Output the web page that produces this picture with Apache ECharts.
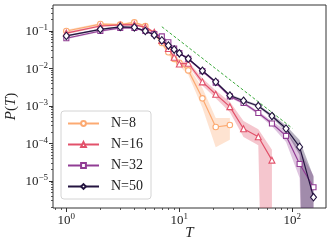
<!DOCTYPE html>
<html><head><meta charset="utf-8">
<script src="https://cdn.jsdelivr.net/npm/echarts@6/dist/echarts.min.js"></script>
<style>html,body{margin:0;padding:0;background:#fff}#c{width:332px;height:248px}</style>
</head><body><div id="c"></div>
<script>
// ---- data ----
const T = [1,2,3,4,5,6,7,8,9,10,12,16,21,28,37,50,66,88,116,154];
const seriesNames = ['N=8','N=16','N=32','N=50'];
const colors = ['#fcaa72','#e2516a','#913c94','#241440'];

const P8   = [0.100,0.153,0.148,0.170,0.135,0.085,0.048,0.027,0.018,0.0142,0.0089,0.0016,0.000275,0.00031];
const P8lo = [0.093,0.143,0.138,0.160,0.125,0.077,0.042,0.023,0.015,0.0115,0.0068,0.0009,0.00008,0.000126];
const P8hi = [0.108,0.163,0.158,0.180,0.145,0.093,0.054,0.031,0.021,0.0170,0.0115,0.0030,0.00048,0.00048];

const P16   = [0.088,0.136,0.145,0.148,0.125,0.092,0.056,0.034,0.020,0.0132,0.0138,0.0044,0.00205,0.00096,0.000247,0.000152,0.000036];
const P16lo = [0.082,0.128,0.137,0.140,0.117,0.085,0.051,0.031,0.018,0.0117,0.0121,0.0035,0.0016,0.00068,0.00015,0.00009,1e-20];
const P16hi = [0.094,0.145,0.154,0.157,0.133,0.099,0.061,0.037,0.022,0.0148,0.0156,0.0055,0.0026,0.0013,0.0004,0.00024,0.000068];

const P32   = [0.064,0.100,0.120,0.120,0.100,0.083,0.072,0.050,0.034,0.026,0.018,0.0085,0.0042,0.0018,0.0012,0.00065,0.00034,0.00016,0.0000284,0.0000068];
const P32lo = [0.060,0.094,0.113,0.113,0.094,0.078,0.067,0.047,0.032,0.0243,0.0168,0.0079,0.0039,0.00165,0.0011,0.00058,0.00029,0.00011,0.000012,1e-20];
const P32hi = [0.068,0.106,0.127,0.127,0.106,0.088,0.077,0.053,0.036,0.0277,0.0192,0.0091,0.0045,0.00195,0.0013,0.00072,0.00040,0.00022,0.000068,0.000014];

const P50   = [0.074,0.111,0.128,0.125,0.100,0.078,0.056,0.041,0.032,0.0254,0.0182,0.0087,0.0044,0.0019,0.00138,0.0010,0.00054,0.00025,0.000081,0.0000037];
const P50lo = [0.070,0.106,0.122,0.119,0.095,0.074,0.053,0.039,0.030,0.0240,0.0172,0.0082,0.0041,0.00175,0.00128,0.00092,0.00048,0.00021,0.000049,1e-20];
const P50hi = [0.078,0.116,0.134,0.131,0.105,0.082,0.059,0.043,0.034,0.0268,0.0192,0.0092,0.0047,0.00205,0.00148,0.00108,0.00060,0.00030,0.000124,0.000013];

const guideT = [7,100];
const guideP = [0.13,0.000255];

const xMajorExp = [0,1,2];
const yMajorExp = [-5,-4,-3,-2,-1];
const xMinorVals = [0.8,0.9,2,3,4,5,6,7,8,9,20,30,40,50,60,70,80,90];
const yMinorVals = [2e-6,3e-6,4e-6,5e-6,6e-6,7e-6,8e-6,9e-6,
  2e-5,3e-5,4e-5,5e-5,6e-5,7e-5,8e-5,9e-5,
  2e-4,3e-4,4e-4,5e-4,6e-4,7e-4,8e-4,9e-4,
  2e-3,3e-3,4e-3,5e-3,6e-3,7e-3,8e-3,9e-3,
  0.02,0.03,0.04,0.05,0.06,0.07,0.08,0.09,0.2,0.3,0.4];

// ---- chart ----
const L = Math.log10;
const FONT = "'Liberation Serif','DejaVu Serif',serif";
const values = [P8,P16,P32,P50], lows=[P8lo,P16lo,P32lo,P50lo], highs=[P8hi,P16hi,P32hi,P50hi];
const symbols = ['circle','triangle','rect','diamond'];
const symSizes = [5.5,6,5,[6,7.5]];
const bandOpacity = [0.33,0.33,0.3,0.33];

const rich = {
  b:{fontFamily:FONT,fontSize:13,color:'#222',verticalAlign:'bottom'},
  s:{fontFamily:FONT,fontSize:9,color:'#222',verticalAlign:'bottom',padding:[0,0,6,0]}
};
function fmt(v){ const e=Math.round(v); return '{b|10}{s|'+(e<0?'\u2212'+(-e):e)+'}'; }

const series = [];
values.forEach((v,k)=>{
  const n=v.length;
  const pts=[];
  for(let i=0;i<n;i++) pts.push([L(T[i]),L(highs[k][i])]);
  for(let i=n-1;i>=0;i--) pts.push([L(T[i]),L(lows[k][i])]);
  series.push({
    type:'custom', silent:true, z:1, xAxisIndex:0, yAxisIndex:0,
    data:[[L(T[0]),L(v[0])]],
    renderItem:function(params,api){
      const cs=params.coordSys;
      return {type:'polygon', shape:{points:pts.map(p=>api.coord(p))},
        style:{fill:colors[k],opacity:bandOpacity[k]},
        clipPath:{type:'rect',shape:{x:cs.x,y:cs.y,width:cs.width,height:cs.height}}};
    }
  });
});
values.forEach((v,k)=>{
  series.push({
    type:'line', name:seriesNames[k], z:3+k,
    data:v.map((p,i)=>[L(T[i]),L(p)]),
    symbol:symbols[k], symbolSize:symSizes[k], showAllSymbol:true,
    lineStyle:{color:colors[k],width:1.2},
    itemStyle:{color:'#fff',borderColor:colors[k],borderWidth:1.1},
    emphasis:{disabled:true}
  });
});
series.push({
  type:'line', name:'guide', z:2, symbol:'none', silent:true,
  data:guideT.map((t,i)=>[L(t),L(guideP[i])]),
  lineStyle:{color:'#3aa83a',width:1,type:[3,2]}
});

const chart = echarts.init(document.getElementById('c'),null,{renderer:'canvas'});
chart.setOption({
  animation:false,
  grid:{left:53,top:5,right:6,bottom:40,show:true,borderColor:'#333',borderWidth:1,backgroundColor:'transparent',outerBoundsMode:'none'},
  legend:{
    data:seriesNames, orient:'vertical', left:61, top:111,
    itemWidth:31, itemHeight:6, itemGap:6, padding:[5,8,5,6],
    borderColor:'#d4d4d4', borderWidth:1, borderRadius:3, backgroundColor:'rgba(255,255,255,0.85)',
    textStyle:{fontFamily:FONT,fontSize:14,color:'#222',padding:[0,0,0,7],lineHeight:15},
    selectedMode:false
  },
  xAxis:[
    {type:'value',min:-0.118,max:2.298,position:'bottom',
     axisLine:{show:false,onZero:false},splitLine:{show:false},
     axisTick:{show:true,length:4,customValues:xMajorExp,lineStyle:{color:'#333',width:1}},
     axisLabel:{customValues:xMajorExp,formatter:fmt,margin:4,rich:rich},
     name:'{i|T}',nameLocation:'middle',nameGap:18,nameMoveOverlap:false,
     nameTextStyle:{rich:{i:{fontFamily:FONT,fontSize:15,fontStyle:'italic',color:'#222'}}}},
    {type:'value',min:-0.118,max:2.298,position:'bottom',
     axisLine:{show:false,onZero:false},splitLine:{show:false},axisLabel:{show:false},
     axisTick:{show:true,length:2,customValues:xMinorVals.map(L),lineStyle:{color:'#333',width:0.8}}}
  ],
  yAxis:[
    {type:'value',min:-5.72,max:-0.307,position:'left',
     axisLine:{show:false,onZero:false},splitLine:{show:false},
     axisTick:{show:true,length:4,customValues:yMajorExp,lineStyle:{color:'#333',width:1}},
     axisLabel:{customValues:yMajorExp,formatter:fmt,margin:5,rich:rich},
     name:'{i|P}{n|(}{i|T}{n|)}',nameLocation:'middle',nameGap:34,nameMoveOverlap:false,
     nameTextStyle:{rich:{i:{fontFamily:FONT,fontSize:15,fontStyle:'italic',color:'#222'},n:{fontFamily:FONT,fontSize:15,color:'#222'}}}},
    {type:'value',min:-5.72,max:-0.307,position:'left',
     axisLine:{show:false,onZero:false},splitLine:{show:false},axisLabel:{show:false},
     axisTick:{show:true,length:2,customValues:yMinorVals.map(L),lineStyle:{color:'#333',width:0.8}}}
  ],
  series:series
});
</script></body></html>
